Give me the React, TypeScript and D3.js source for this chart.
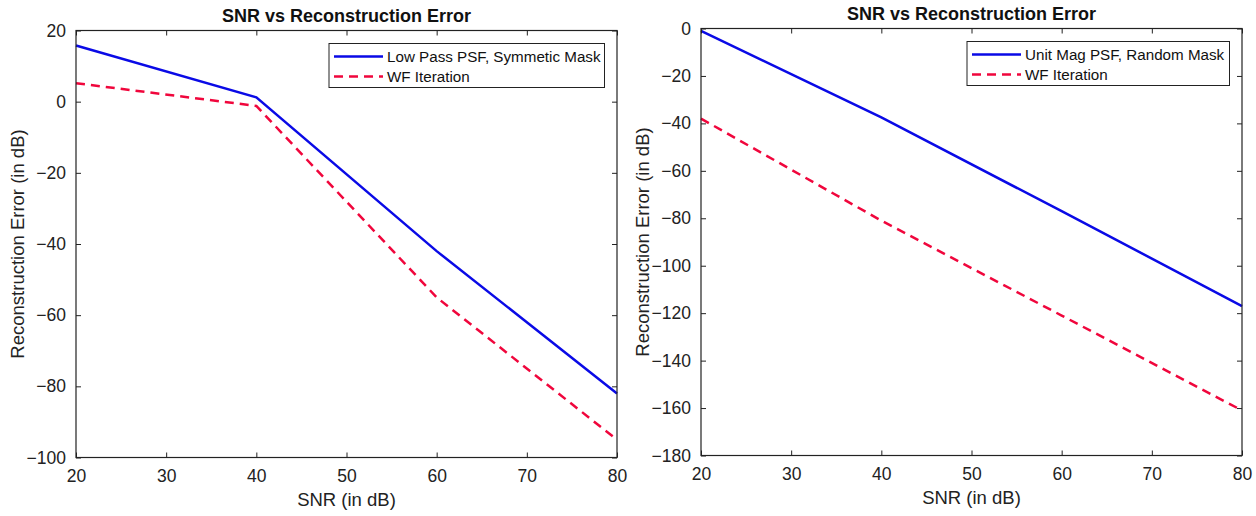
import * as d3 from "d3";
import React, { useEffect, useRef } from "react";

const snr = [20, 40, 60, 80];

const leftMain = [15.8, 1.2, -42, -82];
const leftWF = [5.2, -1.2, -55, -95];
const leftTicksY = [20, 0, -20, -40, -60, -80, -100];

const rightMain = [-1, -37.5, -77, -117];
const rightWF = [-38, -81, -121, -161];
const rightTicksY = [0, -20, -40, -60, -80, -100, -120, -140, -160, -180];

const xTicks = [20, 30, 40, 50, 60, 70, 80];

const title = "SNR vs Reconstruction Error";
const xLabel = "SNR (in dB)";
const yLabel = "Reconstruction Error (in dB)";

interface PanelSpec {
  left: number;
  right: number;
  top: number;
  bottom: number;
  yDomain: [number, number];
  yTicks: number[];
  main: number[];
  wf: number[];
  mainName: string;
  legendLeft: number;
}

const panels: PanelSpec[] = [
  {
    left: 76, right: 617, top: 30.5, bottom: 457.5,
    yDomain: [-100, 20], yTicks: leftTicksY,
    main: leftMain, wf: leftWF,
    mainName: "Low Pass PSF, Symmetic Mask", legendLeft: 329,
  },
  {
    left: 701, right: 1242, top: 28.5, bottom: 455.5,
    yDomain: [-180, 0], yTicks: rightTicksY,
    main: rightMain, wf: rightWF,
    mainName: "Unit Mag PSF, Random Mask", legendLeft: 967,
  },
];

const FONT = "'Liberation Sans', Arial, Helvetica, sans-serif";
const BLUE = "#0a0ae6";
const RED = "#f0063c";

const App: React.FC = () => {
  const ref = useRef<SVGSVGElement>(null);

  useEffect(() => {
    if (!ref.current) return;
    const svg = d3.select(ref.current);
    svg.selectAll("*").remove();

    panels.forEach((p) => {
      const x = d3.scaleLinear().domain([20, 80]).range([p.left, p.right]);
      const y = d3.scaleLinear().domain(p.yDomain).range([p.bottom, p.top]);
      const g = svg.append("g");

      const line = d3.line<number>()
        .x((_, i) => x(snr[i]))
        .y((d) => y(d));

      g.append("path")
        .datum(p.wf)
        .attr("d", line)
        .attr("fill", "none")
        .attr("stroke", RED)
        .attr("stroke-width", 2.5)
        .attr("stroke-dasharray", "9,6");

      g.append("path")
        .datum(p.main)
        .attr("d", line)
        .attr("fill", "none")
        .attr("stroke", BLUE)
        .attr("stroke-width", 2.5);

      // axes with inward ticks on all sides
      const tick = 5;
      g.append("g")
        .attr("transform", `translate(0,${p.bottom})`)
        .call(d3.axisBottom(x).tickValues(xTicks).tickSizeInner(-tick).tickSizeOuter(0).tickPadding(12))
        .call((a) => a.select(".domain").remove());
      g.append("g")
        .attr("transform", `translate(0,${p.top})`)
        .call(d3.axisTop(x).tickValues(xTicks).tickSizeInner(-tick).tickSizeOuter(0).tickFormat(() => ""))
        .call((a) => a.select(".domain").remove());
      g.append("g")
        .attr("transform", `translate(${p.left},0)`)
        .call(d3.axisLeft(y).tickValues(p.yTicks).tickSizeInner(-tick).tickSizeOuter(0).tickPadding(10))
        .call((a) => a.select(".domain").remove());
      g.append("g")
        .attr("transform", `translate(${p.right},0)`)
        .call(d3.axisRight(y).tickValues(p.yTicks).tickSizeInner(-tick).tickSizeOuter(0).tickFormat(() => ""))
        .call((a) => a.select(".domain").remove());

      g.selectAll(".tick text")
        .attr("font-family", FONT)
        .attr("font-size", 17.5)
        .attr("fill", "#222");
      g.selectAll(".tick line").attr("stroke", "#222");

      g.append("rect")
        .attr("x", p.left)
        .attr("y", p.top)
        .attr("width", p.right - p.left)
        .attr("height", p.bottom - p.top)
        .attr("fill", "none")
        .attr("stroke", "#222")
        .attr("stroke-width", 1.2);

      const cx = (p.left + p.right) / 2;
      g.append("text")
        .attr("x", cx)
        .attr("y", p.top - 9)
        .attr("text-anchor", "middle")
        .attr("font-family", FONT)
        .attr("font-weight", "bold")
        .attr("font-size", 18)
        .attr("fill", "#111")
        .text(title);

      g.append("text")
        .attr("x", cx)
        .attr("y", p.bottom + 48)
        .attr("text-anchor", "middle")
        .attr("font-family", FONT)
        .attr("font-size", 18.5)
        .attr("fill", "#222")
        .text(xLabel);

      g.append("text")
        .attr("transform", `translate(${p.left - 52},${(p.top + p.bottom) / 2}) rotate(-90)`)
        .attr("text-anchor", "middle")
        .attr("font-family", FONT)
        .attr("font-size", 18.5)
        .attr("fill", "#222")
        .text(yLabel);

      // legend
      const lx = p.legendLeft;
      const lRight = p.right - 12.5;
      const ly = p.top + 13;
      const lg = g.append("g");
      lg.append("rect")
        .attr("x", lx)
        .attr("y", ly)
        .attr("width", lRight - lx)
        .attr("height", 44)
        .attr("fill", "white")
        .attr("stroke", "#222")
        .attr("stroke-width", 1);
      const items = [
        { name: p.mainName, color: BLUE, dash: null as string | null },
        { name: "WF Iteration", color: RED, dash: "9,6" },
      ];
      items.forEach((it, i) => {
        const yy = ly + 13 + i * 20;
        lg.append("line")
          .attr("x1", lx + 5)
          .attr("x2", lx + 54)
          .attr("y1", yy)
          .attr("y2", yy)
          .attr("stroke", it.color)
          .attr("stroke-width", 2.5)
          .attr("stroke-dasharray", it.dash ?? null);
        lg.append("text")
          .attr("x", lx + 58)
          .attr("y", yy + 5.5)
          .attr("font-family", FONT)
          .attr("font-size", 15.2)
          .attr("fill", "#111")
          .text(it.name);
      });
    });
  }, []);

  return (
    <svg
      ref={ref}
      width={1256}
      height={516}
      style={{ position: "absolute", left: 0, top: 0, background: "white" }}
    />
  );
};

export default App;
